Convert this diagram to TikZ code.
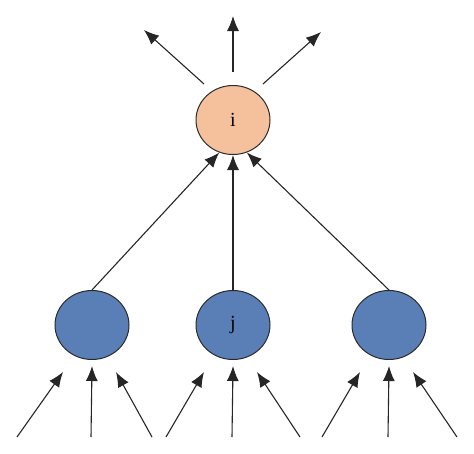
\documentclass[tikz,border=0pt]{standalone}
\usepackage{fontspec}
\setmainfont{Liberation Serif}
\usetikzlibrary{arrows.meta,shapes.geometric}
\definecolor{peach}{HTML}{F4C19C}
\definecolor{nodeblue}{HTML}{5A7FB6}
\definecolor{rim}{HTML}{2A2A2A}
\tikzset{
  neuron/.style={ellipse, draw=rim, line width=1pt, minimum width=74pt, minimum height=69pt, inner sep=0pt, font=\fontsize{20}{20}\selectfont},
  conn/.style={draw=black!85, line width=1.1pt, -{Latex[length=15pt,width=12pt]}}
}
\begin{document}
\begin{tikzpicture}[x=1pt,y=-1pt]
\useasboundingbox (0,0) rectangle (474,453);
\node[neuron, fill=peach] (i) at (233,120) {i};
\node[neuron, fill=nodeblue] (a) at (92,325) {};
\node[neuron, fill=nodeblue] (j) at (233,325) {j};
\node[neuron, fill=nodeblue] (b) at (389,325) {};
% outputs of i
\coordinate (o1s) at (204,84); \coordinate (o1e) at (144,30);
\coordinate (o2s) at (233,72); \coordinate (o2e) at (233,16);
\coordinate (o3s) at (263,84); \coordinate (o3e) at (321,32);
\draw[conn] (o1s) -- (o1e);
\draw[conn] (o2s) -- (o2e);
\draw[conn] (o3s) -- (o3e);
% hidden to i
\draw[conn] (a.north) -- (i.-113);
\draw[conn] (j.north) -- (i.south);
\draw[conn] (b.north) -- (i.-67);
% inputs
\foreach \n/\cx/\ld/\rd in {a/92/75/60, j/233/67/67, b/389/67/68}{
  \coordinate (\n l0) at (\cx-\ld,437); \coordinate (\n l1) at (\cx-29,372);
  \coordinate (\n m0) at (\cx-1,437);  \coordinate (\n m1) at (\cx,366);
  \coordinate (\n r0) at (\cx+\rd,437); \coordinate (\n r1) at (\cx+24,372);
  \draw[conn] (\n l0) -- (\n l1);
  \draw[conn] (\n m0) -- (\n m1);
  \draw[conn] (\n r0) -- (\n r1);
}
\end{tikzpicture}
\end{document}
